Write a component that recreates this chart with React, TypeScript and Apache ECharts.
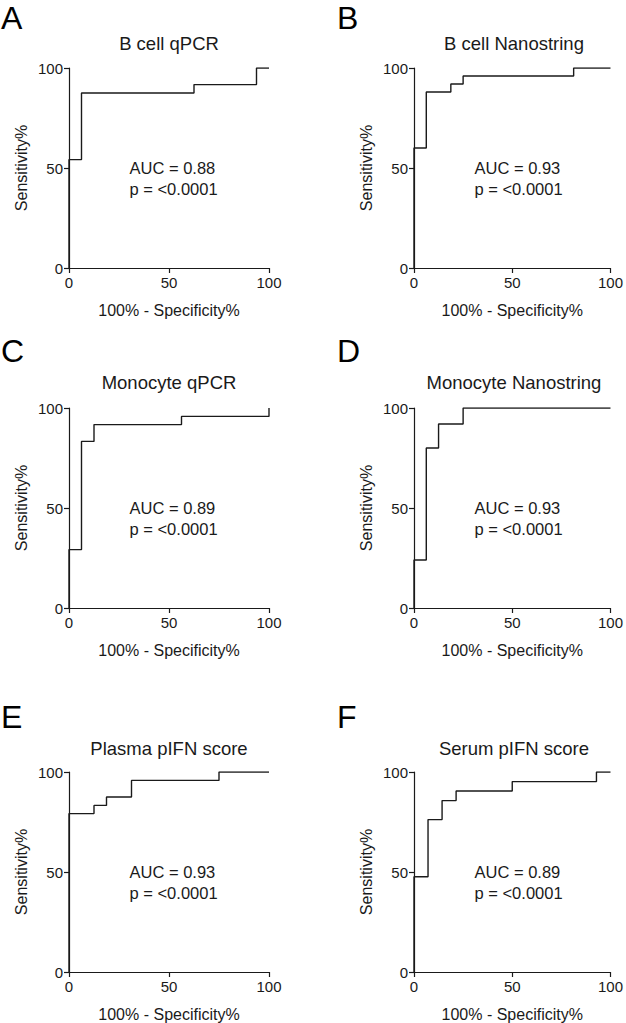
import React, { useEffect, useRef } from "react";
import * as echarts from "echarts";

const panelLetters = ["A", "B", "C", "D", "E", "F"];
const panelTitles = [
  "B cell qPCR",
  "B cell Nanostring",
  "Monocyte qPCR",
  "Monocyte Nanostring",
  "Plasma pIFN score",
  "Serum pIFN score",
];
const aucLabels = ["AUC = 0.88", "AUC = 0.93", "AUC = 0.89", "AUC = 0.93", "AUC = 0.93", "AUC = 0.89"];
const pLabels = ["p = <0.0001", "p = <0.0001", "p = <0.0001", "p = <0.0001", "p = <0.0001", "p = <0.0001"];

// ROC staircase vertices: 100% - Specificity% (x) and Sensitivity% (y)
const fprA = [0, 0, 6.25, 6.25, 62.5, 62.5, 93.75, 93.75, 100];
const tprA = [0, 54.2, 54.2, 87.5, 87.5, 91.7, 91.7, 100, 100];
const fprB = [0, 0, 6.25, 6.25, 18.75, 18.75, 25, 25, 81.25, 81.25, 100];
const tprB = [0, 60, 60, 88, 88, 92, 92, 96, 96, 100, 100];
const fprC = [0, 0, 6.25, 6.25, 12.5, 12.5, 56.25, 56.25, 100, 100];
const tprC = [0, 29.2, 29.2, 83.3, 83.3, 91.7, 91.7, 95.8, 95.8, 100];
const fprD = [0, 0, 6.25, 6.25, 12.5, 12.5, 25, 25, 100];
const tprD = [0, 24, 24, 80, 80, 92, 92, 100, 100];
const fprE = [0, 0, 12.5, 12.5, 18.75, 18.75, 31.25, 31.25, 75, 75, 100];
const tprE = [0, 79.2, 79.2, 83.3, 83.3, 87.5, 87.5, 95.8, 95.8, 100, 100];
const fprF = [0, 0, 7.14, 7.14, 14.29, 14.29, 21.43, 21.43, 50, 50, 92.86, 92.86, 100];
const tprF = [0, 47.6, 47.6, 76.2, 76.2, 85.7, 85.7, 90.5, 90.5, 95.2, 95.2, 100, 100];

const fprs = [fprA, fprB, fprC, fprD, fprE, fprF];
const tprs = [tprA, tprB, tprC, tprD, tprE, tprF];

const xTicks = [0, 50, 100];
const xAxisName = "100% - Specificity%";
const yAxisName = "Sensitivity%";

const FONT = "'Liberation Sans', Arial, sans-serif";
const INK = "#1a1a1a";

export default function App() {
  const ref = useRef<HTMLDivElement>(null);

  useEffect(() => {
    document.body.style.margin = "0";
    if (!ref.current) return;
    const chart = echarts.init(ref.current, null, { renderer: "svg" });

    const colLeft = [69, 414];
    const rowTop = [68, 408, 772];
    const size = 200;
    const letterY = [18, 351, 717];
    const letterX = [1, 337];
    const titleY = [43, 382, 748];

    const grids: any[] = [];
    const xAxes: any[] = [];
    const yAxes: any[] = [];
    const series: any[] = [];
    const graphics: any[] = [];

    for (let i = 0; i < 6; i++) {
      const c = i % 2;
      const r = Math.floor(i / 2);
      const left = colLeft[c];
      const top = rowTop[r];
      grids.push({ left, top, width: size, height: size, containLabel: false });
      const axisCommon = {
        gridIndex: i,
        type: "value",
        min: xTicks[0],
        max: xTicks[xTicks.length - 1],
        interval: xTicks[1] - xTicks[0],
        splitLine: { show: false },
        axisLine: { show: true, onZero: false, lineStyle: { color: INK, width: 1.2 } },
        axisTick: { show: true, inside: false, length: 5, lineStyle: { color: INK, width: 1.2 } },
        axisLabel: { color: INK, fontSize: 15, fontFamily: FONT, margin: 6 },
        nameLocation: "middle",
        nameTextStyle: { color: INK, fontSize: 16, fontFamily: FONT },
      };
      xAxes.push({ ...axisCommon, name: xAxisName, nameGap: 34, axisLabel: { ...axisCommon.axisLabel, margin: 7 } });
      yAxes.push({ ...axisCommon, name: yAxisName, nameGap: 40 });
      series.push({
        type: "line",
        xAxisIndex: i,
        yAxisIndex: i,
        data: fprs[i].map((x, k) => [x, tprs[i][k]]),
        showSymbol: false,
        symbol: "none",
        lineStyle: { color: INK, width: 1.4 },
        z: 3,
      });
      graphics.push({
        type: "text",
        x: letterX[c],
        y: letterY[r],
        style: { text: panelLetters[i], font: `32px ${FONT}`, lineHeight: 32, fill: "#000", textAlign: "left", textVerticalAlign: "middle" },
      });
      graphics.push({
        type: "text",
        x: left + size / 2,
        y: titleY[r],
        style: { text: panelTitles[i], font: `18.5px ${FONT}`, fill: INK, textAlign: "center", textVerticalAlign: "middle" },
      });
      graphics.push({
        type: "text",
        x: left + 60.5,
        y: top + 99.5,
        style: { text: aucLabels[i], font: `16.5px ${FONT}`, fill: INK, textAlign: "left", textVerticalAlign: "middle" },
      });
      graphics.push({
        type: "text",
        x: left + 60.5,
        y: top + 120.5,
        style: { text: pLabels[i], font: `16.5px ${FONT}`, fill: INK, textAlign: "left", textVerticalAlign: "middle" },
      });
    }

    chart.setOption({
      animation: false,
      backgroundColor: "#fff",
      grid: grids,
      xAxis: xAxes,
      yAxis: yAxes,
      series,
      graphic: graphics,
    });

    return () => chart.dispose();
  }, []);

  return <div ref={ref} style={{ width: 626, height: 1023 }} />;
}
